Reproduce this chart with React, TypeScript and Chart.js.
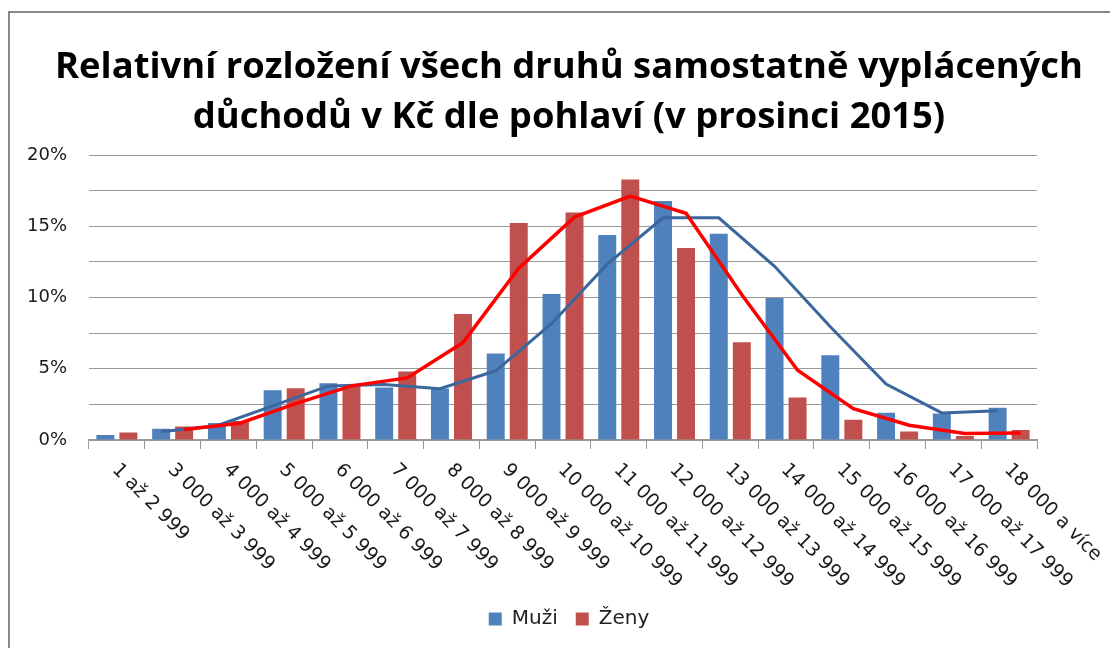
import React, { useEffect, useRef } from "react";
import { Chart, registerables } from "chart.js";

Chart.register(...registerables);

const categories: string[] = [
  "1 až 2 999",
  "3 000 až 3 999",
  "4 000 až 4 999",
  "5 000 až 5 999",
  "6 000 až 6 999",
  "7 000 až 7 999",
  "8 000 až 8 999",
  "9 000 až 9 999",
  "10 000 až 10 999",
  "11 000 až 11 999",
  "12 000 až 12 999",
  "13 000 až 13 999",
  "14 000 až 14 999",
  "15 000 až 15 999",
  "16 000 až 16 999",
  "17 000 až 17 999",
  "18 000 a více",
];

const muzi: number[] = [0.35, 0.79, 1.19, 3.5, 3.99, 3.69, 3.62, 6.07, 10.25, 14.39, 16.79, 14.48, 9.97, 5.96, 1.91, 1.86, 2.26];
const zeny: number[] = [0.53, 0.95, 1.33, 3.64, 3.85, 4.81, 8.85, 15.23, 15.98, 18.29, 13.48, 6.87, 2.99, 1.42, 0.6, 0.28, 0.7];

// moving-average trend lines
const muziTrend: (number | null)[] = [null, 0.58, 1.0, 2.4, 3.8, 3.9, 3.6, 4.86, 8.17, 12.35, 15.6, 15.6, 12.2, 7.95, 3.93, 1.9, 2.05];
const zenyTrend: (number | null)[] = [null, 0.74, 1.18, 2.55, 3.8, 4.36, 6.84, 12.07, 15.65, 17.13, 15.92, 10.2, 4.9, 2.2, 1.04, 0.46, 0.49];

const titleLines: string[] = [
  "Relativní rozložení všech druhů samostatně vyplácených",
  "důchodů v Kč dle pohlaví (v prosinci 2015)",
];

const yMax = 20;
const yStep = 2.5;
const yLabelStep = 5;

// share of a category occupied by the pair of bars, and bar fill of its slot
const GROUP_PCT = 0.826;
const BAR_PCT = 0.78;

export default function App() {
  const canvasRef = useRef<HTMLCanvasElement | null>(null);

  useEffect(() => {
    const canvas = canvasRef.current;
    if (!canvas) return;
    const off = GROUP_PCT / 4;

    const toPoints = (arr: (number | null)[], shift: number) =>
      arr
        .map((v, i) => (v === null ? null : { x: i + shift, y: v }))
        .filter((p) => p !== null) as { x: number; y: number }[];

    const xLabelPlugin = {
      id: "xLabels",
      afterDraw(chart: any) {
        const ctx = chart.ctx;
        const xs = chart.scales.x;
        const bottom = chart.chartArea.bottom;
        ctx.save();
        ctx.font = "19px 'DejaVu Sans'";
        ctx.fillStyle = "#1a1a1a";
        ctx.textAlign = "left";
        ctx.textBaseline = "middle";
        categories.forEach((lab, i) => {
          const x = xs.getPixelForValue(i);
          ctx.save();
          ctx.translate(x - 2, bottom + 27);
          ctx.rotate(Math.PI / 4);
          ctx.fillText(lab, 0, 0);
          ctx.restore();
        });
        ctx.restore();
      },
    };

    const chart = new Chart(canvas, {
      type: "bar",
      data: {
        labels: categories,
        datasets: [
          {
            type: "bar",
            label: "Muži",
            data: toPoints(muzi, -off) as any,
            xAxisID: "xl",
            backgroundColor: "#4F81BD",
            borderWidth: 0,
            grouped: false,
            barPercentage: BAR_PCT,
            categoryPercentage: 1,
            order: 3,
          },
          {
            type: "bar",
            label: "Ženy",
            data: toPoints(zeny, off) as any,
            xAxisID: "xl",
            backgroundColor: "#C0504D",
            borderWidth: 0,
            grouped: false,
            barPercentage: BAR_PCT,
            categoryPercentage: 1,
            order: 3,
          },
          {
            type: "line",
            label: "Muži trend",
            data: toPoints(muziTrend, -off) as any,
            xAxisID: "xl",
            borderColor: "#3B679C",
            borderWidth: 3,
            pointRadius: 0,
            tension: 0,
            fill: false,
            order: 1,
          },
          {
            type: "line",
            label: "Ženy trend",
            data: toPoints(zenyTrend, off) as any,
            xAxisID: "xl",
            borderColor: "#FF0000",
            borderWidth: 3.5,
            pointRadius: 0,
            tension: 0,
            fill: false,
            order: 0,
          },
        ] as any,
      },
      options: {
        responsive: false,
        animation: false,
        devicePixelRatio: 1,
        layout: { padding: { left: 0, right: 0, top: 0, bottom: 9 } },
        plugins: {
          title: {
            display: true,
            text: titleLines,
            color: "#000",
            font: { family: "Open Sans", weight: "bold", size: 36.4, lineHeight: 1.39 },
            padding: { top: 42, bottom: 12 },
          },
          legend: {
            display: true,
            position: "bottom",
            labels: {
              boxWidth: 13,
              boxHeight: 13,
              padding: 18,
              color: "#222",
              font: { family: "DejaVu Sans", size: 20 },
              filter: (item: any) => item.datasetIndex < 2,
            },
          },
          tooltip: { enabled: false },
        },
        scales: {
          x: {
            type: "category",
            offset: true,
            ticks: { display: false },
            grid: {
              display: true,
              drawOnChartArea: false,
              drawTicks: true,
              tickLength: 9,
              color: "#999",
              offset: true,
            },
            border: { display: true, color: "#999", width: 1.5 },
            afterFit: (scale: any) => {
              scale.height = 151;
            },
          },
          xl: {
            type: "linear",
            display: false,
            min: -0.5,
            max: categories.length - 0.5,
            offset: false,
            ticks: { stepSize: 1 },
          },
          y: {
            min: 0,
            max: yMax,
            stacked: false,
            ticks: {
              stepSize: yStep,
              padding: 22,
              color: "#1a1a1a",
              font: { family: "DejaVu Sans", size: 18 },
              callback: (v: any) => (Number(v) % yLabelStep === 0 ? `${v}%` : ""),
            },
            grid: { color: "#999", lineWidth: 1, drawTicks: false },
            border: { display: false },
            afterFit: (scale: any) => {
              scale.width = 61;
            },
          },
          yr: {
            type: "linear",
            position: "right",
            display: true,
            min: 0,
            max: yMax,
            ticks: { display: false },
            grid: { display: false, drawTicks: false },
            border: { display: false },
            afterFit: (scale: any) => {
              scale.width = 73;
            },
          },
        },
      } as any,
      plugins: [xLabelPlugin],
    });

    return () => chart.destroy();
  }, []);

  return (
    <div
      style={{
        position: "fixed",
        left: 0,
        top: 0,
        width: 1110,
        height: 648,
        overflow: "hidden",
        background: "#fff",
      }}
    >
      <div
        style={{
          position: "absolute",
          left: 8,
          top: 11,
          width: 2000,
          height: 2000,
          borderLeft: "2px solid #888",
          borderTop: "2px solid #888",
        }}
      />
      <canvas
        ref={canvasRef}
        width={1082}
        height={648}
        style={{ position: "absolute", left: 28, top: 0, width: 1082, height: 648 }}
      />
    </div>
  );
}
